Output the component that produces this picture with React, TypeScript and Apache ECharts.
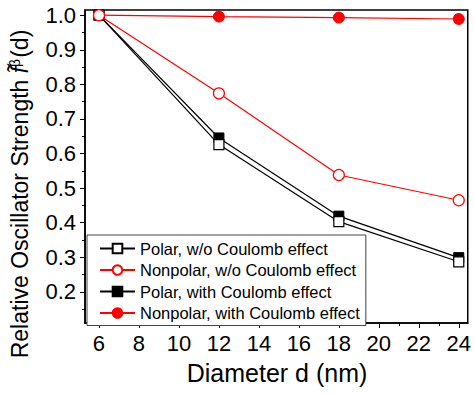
import React, { useEffect, useRef } from 'react';
import * as echarts from 'echarts';

const diameters = [6, 12, 18, 24];
const polarWithout = [1.0, 0.626, 0.403, 0.287];
const nonpolarWithout = [1.0, 0.774, 0.538, 0.465];
const polarWith = [1.0, 0.645, 0.419, 0.299];
const nonpolarWith = [1.0, 0.996, 0.993, 0.989];

const seriesNames = [
  'Polar, w/o Coulomb effect',
  'Nonpolar, w/o Coulomb effect',
  'Polar, with Coulomb effect',
  'Nonpolar, with Coulomb effect',
];

const xMajorTicks = [6, 8, 10, 12, 14, 16, 18, 20, 22, 24];
const xMinorTicks = [7, 9, 11, 13, 15, 17, 19, 21, 23];
const yMajorTicks = [0.2, 0.3, 0.4, 0.5, 0.6, 0.7, 0.8, 0.9, 1.0];
const yMinorTicks = [0.15, 0.25, 0.35, 0.45, 0.55, 0.65, 0.75, 0.85, 0.95];

const xTitle = 'Diameter d (nm)';
const yTitle = 'Relative Oscillator Strength ';

const FONT = '"Liberation Sans", Arial, sans-serif';

function pairs(vals: number[]) {
  return diameters.map((d, i) => [d, vals[i]]);
}

export default function App() {
  const ref = useRef<HTMLDivElement>(null);
  useEffect(() => {
    if (!ref.current) return;
    const chart = echarts.init(ref.current, null, { renderer: 'svg' });
    const xRange = { min: 5.3, max: 24.45 };
    const yRange = { min: 0.11, max: 1.015 };
    chart.setOption({
      animation: false,
      backgroundColor: '#fff',
      textStyle: { fontFamily: FONT },
      grid: {
        left: 85,
        top: 10,
        right: 3,
        bottom: 71,
        show: true,
        borderColor: '#000',
        borderWidth: 1.5,
        backgroundColor: 'transparent',
      },
      xAxis: [
        {
          type: 'value',
          ...xRange,
          position: 'bottom',
          axisLine: { show: true, lineStyle: { color: '#000', width: 1.5 } },
          axisTick: { show: true, customValues: xMajorTicks, length: 5, lineStyle: { color: '#000', width: 1 } },
          axisLabel: {
            customValues: xMajorTicks,
            color: '#000',
            fontSize: 22,
            fontFamily: FONT,
            margin: 9,
            formatter: (v: number) => String(v),
          },
          splitLine: { show: false },
        },
        {
          type: 'value',
          ...xRange,
          position: 'bottom',
          axisLine: { show: false },
          axisTick: { show: true, customValues: xMinorTicks, length: 3, lineStyle: { color: '#000', width: 1 } },
          axisLabel: { show: false },
          splitLine: { show: false },
        },
      ],
      yAxis: [
        {
          type: 'value',
          ...yRange,
          position: 'left',
          axisLine: { show: true, lineStyle: { color: '#000', width: 1.5 } },
          axisTick: { show: true, customValues: yMajorTicks, length: 5, lineStyle: { color: '#000', width: 1 } },
          axisLabel: {
            customValues: yMajorTicks,
            color: '#000',
            fontSize: 22,
            fontFamily: FONT,
            margin: 9,
            formatter: (v: number) => v.toFixed(1),
          },
          splitLine: { show: false },
        },
        {
          type: 'value',
          ...yRange,
          position: 'left',
          axisLine: { show: false },
          axisTick: { show: true, customValues: yMinorTicks, length: 3, lineStyle: { color: '#000', width: 1 } },
          axisLabel: { show: false },
          splitLine: { show: false },
        },
      ],
      legend: {
        data: seriesNames,
        orient: 'vertical',
        left: 87,
        top: 235,
        itemWidth: 35,
        itemHeight: 12,
        itemGap: 4.5,
        padding: [5, 6, 4, 12],
        backgroundColor: '#fff',
        borderColor: '#444',
        borderWidth: 1,
        textStyle: { fontSize: 16.5, color: '#000', fontFamily: FONT, lineHeight: 16 },
      },
      graphic: [
        {
          type: 'text',
          x: 20,
          y: 194,
          rotation: Math.PI / 2,
          style: {
            text: yTitle + '{f|f\u0303}{sup|β}(d)',
            fontSize: 23,
            fontFamily: FONT,
            fill: '#000',
            align: 'center',
            verticalAlign: 'middle',
            rich: {
              f: { fontSize: 23, fontStyle: 'italic', fontFamily: FONT, fill: '#000' },
              sup: { fontSize: 14, fontFamily: FONT, fill: '#000', verticalAlign: 'top', padding: [0, 1, 10, 0] },
            },
          },
        },
        {
          type: 'text',
          x: 277,
          y: 373,
          style: {
            text: xTitle,
            fontSize: 25,
            fontFamily: FONT,
            fill: '#000',
            align: 'center',
            verticalAlign: 'middle',
          },
        },
      ],
      series: [
        {
          name: seriesNames[2],
          type: 'line',
          data: pairs(polarWith),
          symbol: 'rect',
          symbolSize: 10,
          lineStyle: { color: '#000', width: 1.2 },
          itemStyle: { color: '#000', borderColor: '#000', borderWidth: 1 },
          z: 2,
        },
        {
          name: seriesNames[3],
          type: 'line',
          data: pairs(nonpolarWith),
          symbol: 'circle',
          symbolSize: 11,
          lineStyle: { color: '#ff0000', width: 1.2 },
          itemStyle: { color: '#ff0000', borderColor: '#ff0000', borderWidth: 1 },
          z: 3,
        },
        {
          name: seriesNames[0],
          type: 'line',
          data: pairs(polarWithout),
          symbol: 'rect',
          symbolSize: 10,
          lineStyle: { color: '#000', width: 1.2 },
          itemStyle: { color: '#fff', borderColor: '#000', borderWidth: 1.2 },
          z: 4,
        },
        {
          name: seriesNames[1],
          type: 'line',
          data: pairs(nonpolarWithout),
          symbol: 'circle',
          symbolSize: 11,
          lineStyle: { color: '#ff0000', width: 1.2 },
          itemStyle: { color: '#fff', borderColor: '#ff0000', borderWidth: 1.2 },
          z: 5,
        },
      ],
    });
    return () => chart.dispose();
  }, []);
  return <div ref={ref} style={{ width: 474, height: 394, position: 'absolute', left: 0, top: 0 }} />;
}
